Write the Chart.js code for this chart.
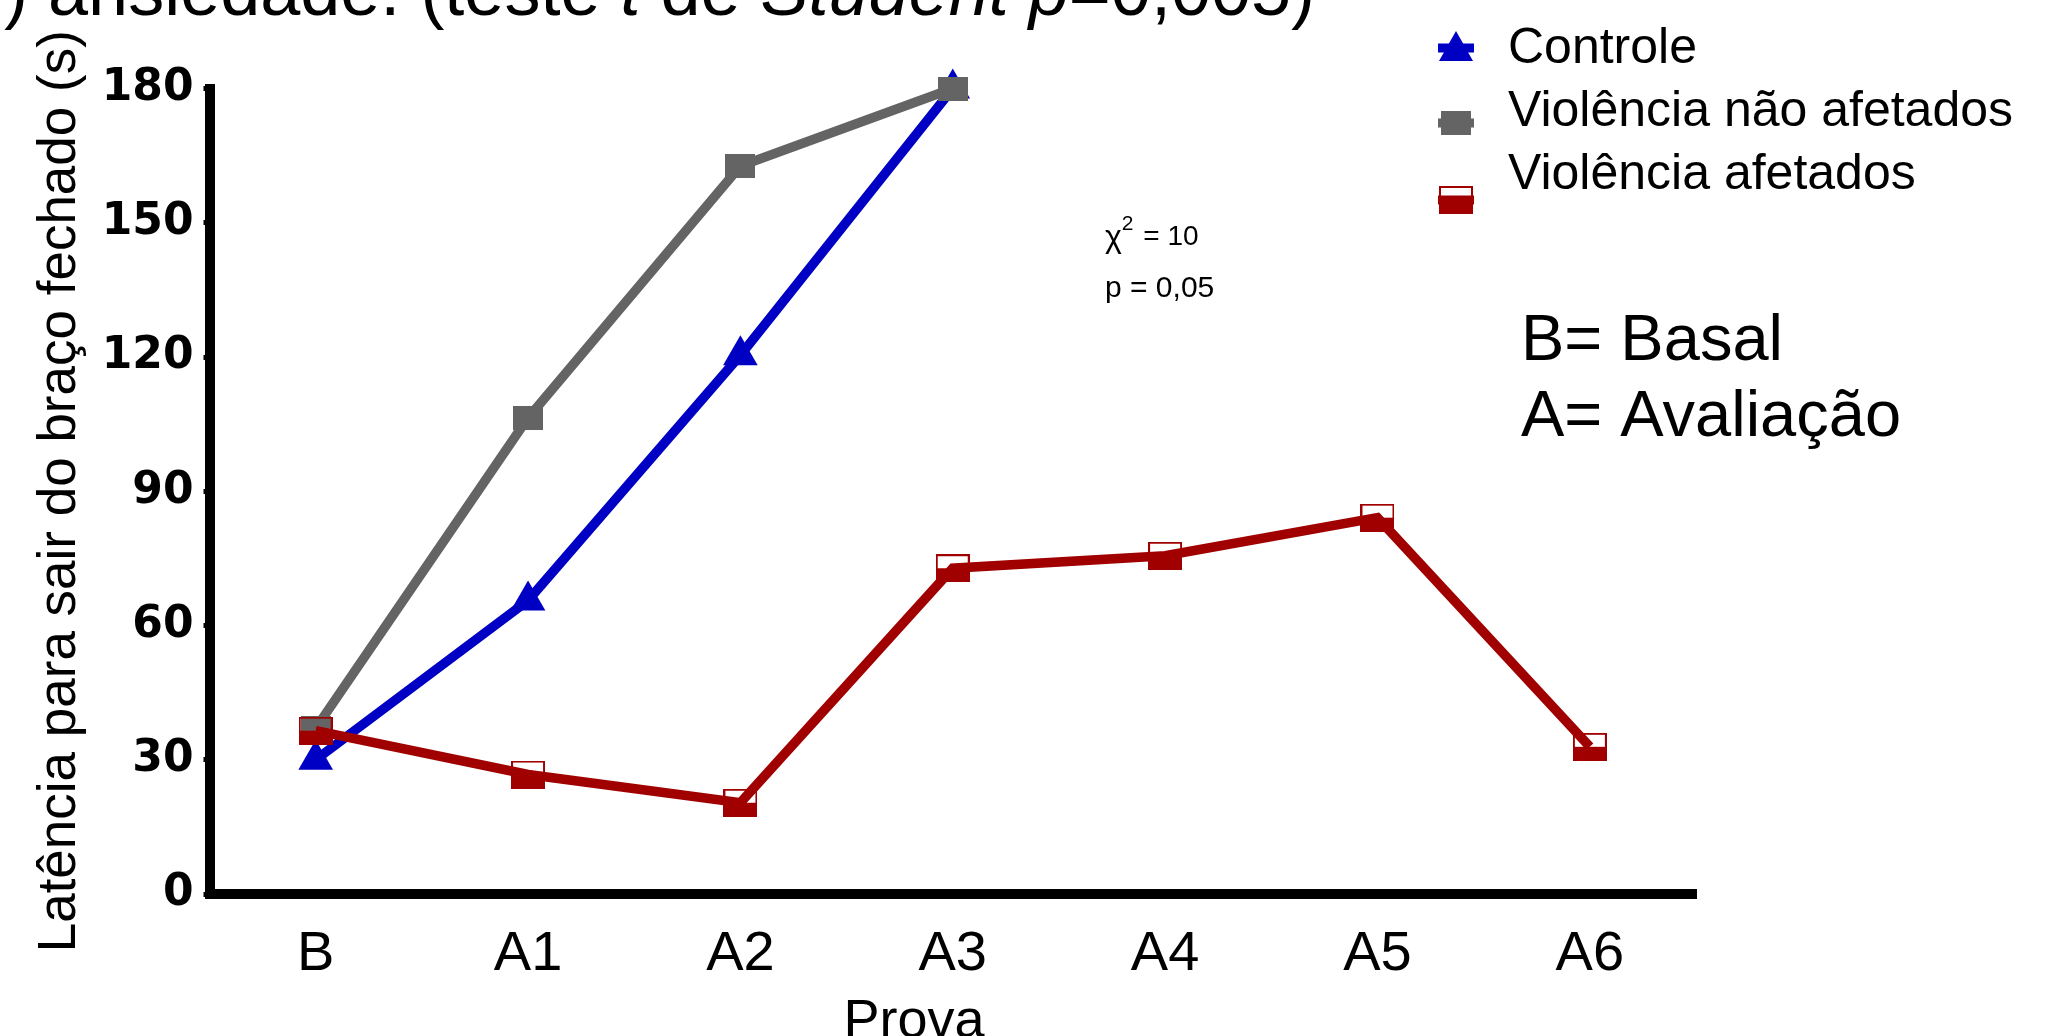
<!DOCTYPE html>
<html>
<head>
<meta charset="utf-8">
<script src="https://cdn.jsdelivr.net/npm/chart.js@4.4.0/dist/chart.umd.min.js"></script>
<style>
  html, body { margin: 0; padding: 0; background: #fff; }
  #wrap { width: 2051px; height: 1036px; }
</style>
</head>
<body>
<div id="wrap"><canvas id="latencyChart" width="2051" height="1036"></canvas></div>
<script>
// data (seconds)
const provas = ['B', 'A1', 'A2', 'A3', 'A4', 'A5', 'A6'];
const controle = [30, 65.6, 120.4, 180, null, null, null];
const naoAfetados = [37, 106.4, 162.7, 180, null, null, null];
const afetados = [36.5, 26.7, 20.4, 72.8, 75.6, 84.1, 32.9];
const yMax = 180;
const yStep = 30;
const seriesNames = ['Controle', 'Violência não afetados', 'Violência afetados'];

const BLUE = '#0000c4';
const GRAY = '#646464';
const RED = '#a00000';
const SANS = "'Liberation Sans', Arial, sans-serif";
const NARROW = "'Liberation Sans Narrow', 'Liberation Sans', Arial, sans-serif";

// marker images
function grayBox() {
    const c = document.createElement('canvas');
    c.width = 30; c.height = 24;
    const g = c.getContext('2d');
    g.fillStyle = GRAY;
    g.fillRect(0, 0, 30, 24);
    return c;
}
function redBox() {
    const c = document.createElement('canvas');
    c.width = 34; c.height = 28;
    const g = c.getContext('2d');
    g.strokeStyle = RED;
    g.lineWidth = 2;
    g.strokeRect(1, 1, 32, 26);
    g.fillStyle = RED;
    g.fillRect(0, 14, 34, 14);
    return c;
}
const grayMarker = grayBox();
const redMarker = redBox();

// extra text: cut title, legend, notes
const extras = {
    id: 'extras',
    afterDraw(chart) {
        const ctx = chart.ctx;
        ctx.save();
        ctx.fillStyle = '#000';

        // title, cropped at the top edge of the figure
        const parts = [
            ['(**) ansiedade. (teste ', false], ['t', true], [' de ', false],
            ['Student', true], [' ', false], ['p', true], ['=0,005)', false]
        ];
        const fnt = it => (it ? 'italic ' : '') + '72px ' + SANS;
        let total = 0;
        parts.forEach(p => { ctx.font = fnt(p[1]); total += ctx.measureText(p[0]).width; });
        let x = 1315 - total;
        ctx.textBaseline = 'alphabetic';
        ctx.textAlign = 'left';
        parts.forEach(p => {
            ctx.font = fnt(p[1]);
            ctx.fillText(p[0], x, 15);
            x += ctx.measureText(p[0]).width;
        });

        // legend
        ctx.textBaseline = 'middle';
        ctx.font = '50px ' + SANS;
        const textY = [49, 112, 175];
        seriesNames.forEach((n, i) => ctx.fillText(n, 1508, textY[i]));

        ctx.lineWidth = 9;
        ctx.strokeStyle = BLUE;
        ctx.beginPath(); ctx.moveTo(1438, 48); ctx.lineTo(1474, 48); ctx.stroke();
        ctx.fillStyle = BLUE;
        ctx.beginPath();
        ctx.moveTo(1456, 31); ctx.lineTo(1473, 61); ctx.lineTo(1439, 61); ctx.closePath();
        ctx.fill();
        ctx.strokeStyle = GRAY;
        ctx.beginPath(); ctx.moveTo(1438, 123); ctx.lineTo(1474, 123); ctx.stroke();
        ctx.drawImage(grayMarker, 1441, 111);
        ctx.strokeStyle = RED;
        ctx.beginPath(); ctx.moveTo(1438, 200); ctx.lineTo(1474, 200); ctx.stroke();
        ctx.drawImage(redMarker, 1439, 186);

        // chi-square note
        ctx.fillStyle = '#000';
        ctx.font = '32px ' + SANS;
        ctx.fillText('\u03c7', 1105, 238);
        let cx = 1105 + ctx.measureText('\u03c7').width;
        ctx.font = '21px ' + SANS;
        ctx.fillText('2', cx, 224);
        cx += ctx.measureText('2').width + 2;
        ctx.font = '28px ' + SANS;
        ctx.fillText(' = 10', cx, 237);
        ctx.font = '30px ' + SANS;
        ctx.fillText('p = 0,05', 1105, 289);

        // abbreviations
        ctx.font = '65px ' + SANS;
        ctx.fillText('B= Basal', 1521, 342);
        ctx.fillText('A= Avaliação', 1521, 418);

        // x axis title
        ctx.font = '54px ' + SANS;
        ctx.textAlign = 'center';
        ctx.textBaseline = 'alphabetic';
        ctx.fillText('Prova', 914, 1037);
        ctx.restore();
    }
};

const ctx = document.getElementById('latencyChart').getContext('2d');
new Chart(ctx, {
    type: 'line',
    data: {
        labels: provas,
        datasets: [{
            label: seriesNames[0],
            data: controle,
            borderColor: BLUE,
            backgroundColor: BLUE,
            pointStyle: 'triangle',
            pointRadius: 20,
            pointHoverRadius: 20,
            order: 2
        }, {
            label: seriesNames[1],
            data: naoAfetados,
            borderColor: GRAY,
            backgroundColor: GRAY,
            pointStyle: grayMarker,
            order: 1
        }, {
            label: seriesNames[2],
            data: afetados,
            borderColor: RED,
            backgroundColor: RED,
            pointStyle: redMarker,
            order: 0
        }]
    },
    options: {
        responsive: false,
        animation: false,
        devicePixelRatio: 1,
        layout: { padding: { top: 88.5, right: 355, left: 0, bottom: 0 } },
        elements: {
            line: { borderWidth: 9.5, tension: 0, fill: false },
            point: { borderWidth: 0 }
        },
        datasets: { line: { clip: false, spanGaps: false } },
        plugins: {
            legend: { display: false },
            tooltip: { enabled: false }
        },
        scales: {
            x: {
                offset: true,
                grid: {
                    drawOnChartArea: false,
                    drawTicks: true,
                    tickLength: 5,
                    tickWidth: 4,
                    tickColor: '#000'
                },
                border: { display: true, width: 10, color: '#000' },
                ticks: {
                    color: '#000',
                    padding: 22,
                    maxRotation: 0,
                    font: { family: NARROW, size: 56 }
                },
                afterFit(scale) { scale.height = 1036 - 894; }
            },
            y: {
                min: 0,
                max: yMax,
                grid: {
                    drawOnChartArea: false,
                    drawTicks: true,
                    tickLength: 6,
                    tickWidth: 5,
                    tickColor: '#000'
                },
                border: { display: true, width: 10, color: '#000' },
                ticks: {
                    stepSize: yStep,
                    color: '#000',
                    padding: 10,
                    font: { family: "'DejaVu Sans', sans-serif", size: 44, weight: 'bold' }
                },
                title: {
                    display: true,
                    text: 'Latência para sair do braço fechado (s)',
                    color: '#000',
                    padding: { top: 29, bottom: 0 },
                    font: { family: SANS, size: 53 }
                },
                afterFit(scale) { scale.width = 209.5; }
            }
        }
    },
    plugins: [extras]
});
</script>
</body>
</html>
